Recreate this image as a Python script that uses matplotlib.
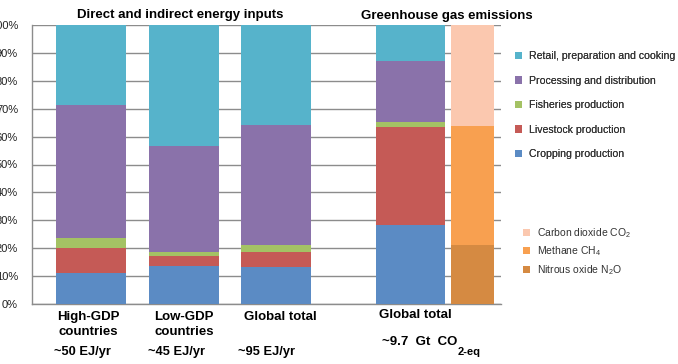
import numpy as np
import matplotlib
matplotlib.use("Agg")
import matplotlib.pyplot as plt

plt.rcParams['font.family'] = ['Liberation Sans', 'DejaVu Sans']
plt.rcParams['mathtext.fontset'] = 'custom'
plt.rcParams['mathtext.rm'] = 'Liberation Sans'
plt.rcParams['mathtext.it'] = 'Liberation Sans:italic'
plt.rcParams['mathtext.bf'] = 'Liberation Sans:bold'

# --- data (percent shares) ---
stages = ['Cropping production', 'Livestock production', 'Fisheries production',
          'Processing and distribution', 'Retail, preparation and cooking']
energy_groups = ['High-GDP\ncountries', 'Low-GDP\ncountries', 'Global total']
energy_totals = ['~50 EJ/yr', '~45 EJ/yr', '~95 EJ/yr']
energy_shares = {
    'Cropping production':             [11.0, 13.6, 13.1],
    'Livestock production':            [9.1, 3.6, 5.5],
    'Fisheries production':            [3.6, 1.5, 2.5],
    'Processing and distribution':     [47.6, 38.0, 43.1],
    'Retail, preparation and cooking': [28.7, 43.3, 35.8],
}
ghg_label = 'Global total'
ghg_shares = [28.3, 35.3, 1.6, 21.9, 12.9]   # same order as stages

gases = ['Nitrous oxide N$_2$O', 'Methane CH$_4$', 'Carbon dioxide CO$_2$']
gas_shares = [21.1, 42.6, 36.3]

stage_colors = ['#5B8BC4', '#C55A56', '#A4C264', '#8A72AA', '#56B3CB']
gas_colors = ['#D58A42', '#F8A050', '#FBC8AF']

# --- layout (pixel-like x units across the axes) ---
energy_x = [59, 152, 244]
ghg_x = 378.5
gas_x = 440.5

fig = plt.figure(figsize=(6.78, 3.64), dpi=100)
W, H = 678, 364
ax = fig.add_axes([32 / W, (H - 304) / H, 469 / W, 279 / H])

bottom = np.zeros(len(energy_groups))
bars = []
for name, col in zip(stages, stage_colors):
    vals = np.array(energy_shares[name])
    b = ax.bar(energy_x, vals, width=70, bottom=bottom, color=col, label=name, zorder=3)
    bars.append(b)
    bottom += vals

b0 = 0
for val, col in zip(ghg_shares, stage_colors):
    ax.bar(ghg_x, val, width=69, bottom=b0, color=col, zorder=3)
    b0 += val

gas_bars = []
b0 = 0
for name, val, col in zip(gases, gas_shares, gas_colors):
    gb = ax.bar(gas_x, val, width=43, bottom=b0, color=col, label=name, zorder=3)
    gas_bars.append(gb)
    b0 += val

ax.set_xlim(0, 469)
ax.set_ylim(0, 100)
ax.set_yticks(np.arange(0, 101, 10))
ax.set_yticklabels([f'{v}%' for v in range(0, 101, 10)])
ax.tick_params(axis='y', length=0, pad=10, labelsize=8, colors='#222222')
ax.set_xticks([])
ax.yaxis.grid(True, color='#8c8c8c', lw=1, zorder=0)
for s in ['top', 'right']:
    ax.spines[s].set_visible(False)
for s in ['left', 'bottom']:
    ax.spines[s].set_color('#8c8c8c')
    ax.spines[s].set_linewidth(1)

# titles
fig.text(180 / W, 1 - 15 / H, 'Direct and indirect energy inputs', ha='center', va='center',
         fontsize=9.5, fontweight='bold')
fig.text(447 / W, 1 - 16 / H, 'Greenhouse gas emissions', ha='center', va='center',
         fontsize=9.5, fontweight='bold')

# category labels under the bars
label_x = [88.7, 184, 280]
total_x = [82.7, 177, 267]
for lx, tx, lab, tot in zip(label_x, total_x, energy_groups, energy_totals):
    fig.text(lx / W, 1 - 311 / H, lab, ha='center', va='top', fontsize=9.5, fontweight='bold',
             linespacing=1.3)
    fig.text(tx / W, 1 - 352 / H, tot, ha='center', va='center', fontsize=9.3, fontweight='bold')
fig.text(415 / W, 1 - 315 / H, ghg_label, ha='center', va='center', fontsize=9.5,
         fontweight='bold')
t = fig.text(382 / W, 1 - 342 / H, '~9.7  Gt  CO', ha='left', va='center', fontsize=9.5,
             fontweight='bold')
ax.annotate('2-eq', xy=(1, -0.3), xycoords=t, ha='left', va='center', fontsize=8,
            fontweight='bold', annotation_clip=False)

# legends
leg1 = fig.legend(handles=bars[::-1], labels=stages[::-1], loc='upper left',
                  bbox_to_anchor=(515 / W, 1 - 51 / H), frameon=False, fontsize=7.6,
                  handlelength=0.7, handleheight=0.7, handletextpad=0.6,
                  labelspacing=1.38, borderpad=0, borderaxespad=0, labelcolor='#333333')
leg2 = fig.legend(handles=gas_bars[::-1], labels=gases[::-1], loc='upper left',
                  bbox_to_anchor=(523 / W, 1 - 226 / H), frameon=False, fontsize=7.5,
                  handlelength=0.7, handleheight=0.7, handletextpad=0.6,
                  labelspacing=0.45, borderpad=0, borderaxespad=0, labelcolor='#333333')
fig.add_artist(leg1)

fig.savefig('out.png', dpi=100)
